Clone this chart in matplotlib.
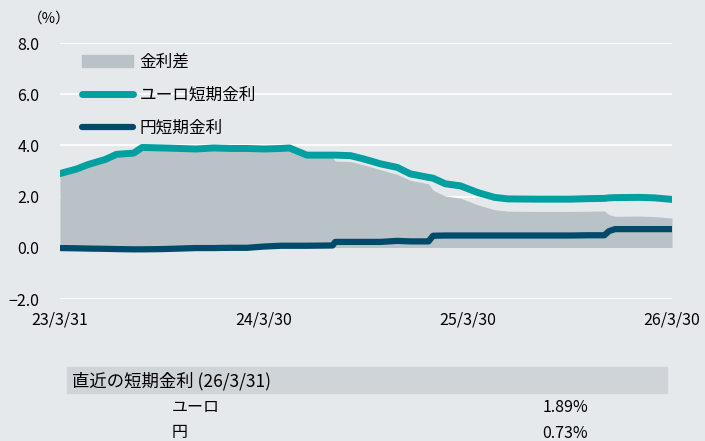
import pandas as pd
import matplotlib
matplotlib.use("Agg")
import matplotlib.pyplot as plt
from matplotlib.patches import Rectangle, Patch
from matplotlib.lines import Line2D

plt.rcParams['font.family'] = ['Noto Sans CJK JP', 'DejaVu Sans']

# data (%)
dates = ['2023-03-31', '2023-04-30', '2023-05-20', '2023-06-20', '2023-07-10',
         '2023-08-10', '2023-08-25', '2023-09-30', '2023-10-31', '2023-11-30',
         '2023-12-31', '2024-01-31', '2024-02-29', '2024-03-31', '2024-04-30',
         '2024-05-15', '2024-06-15', '2024-07-31', '2024-08-05', '2024-09-01',
         '2024-09-25', '2024-10-25', '2024-11-24', '2024-12-17', '2025-01-19',
         '2025-01-27', '2025-02-18', '2025-03-17', '2025-04-17', '2025-05-17',
         '2025-06-10', '2025-07-31', '2025-08-31', '2025-09-30', '2025-10-31',
         '2025-11-30', '2025-12-08', '2025-12-19', '2026-01-31', '2026-02-28',
         '2026-03-31']
euro = [2.90, 3.08, 3.25, 3.45, 3.65,
        3.70, 3.92, 3.90, 3.88, 3.86,
        3.90, 3.88, 3.88, 3.86, 3.88,
        3.90, 3.62, 3.62, 3.62, 3.60,
        3.47, 3.28, 3.14, 2.89, 2.75,
        2.72, 2.50, 2.42, 2.16, 1.97,
        1.91, 1.90, 1.90, 1.90, 1.92,
        1.93, 1.95, 1.96, 1.97, 1.95,
        1.89]
yen = [-0.01, -0.02, -0.03, -0.04, -0.05,
       -0.06, -0.06, -0.05, -0.03, -0.01,
       -0.01, 0.00, 0.00, 0.05, 0.08,
       0.08, 0.08, 0.09, 0.23, 0.23,
       0.23, 0.23, 0.27, 0.25, 0.25,
       0.47, 0.48, 0.48, 0.48, 0.48,
       0.48, 0.48, 0.48, 0.48, 0.49,
       0.49, 0.65, 0.73, 0.73, 0.73,
       0.73]

tick_dates = ['2023-03-31', '2024-03-30', '2025-03-30', '2026-03-30']
tick_labels = ['23/3/31', '24/3/30', '25/3/30', '26/3/30']

latest_label = '直近の短期金利 (26/3/31)'
latest_names = ['ユーロ', '円']
latest_values = ['1.89%', '0.73%']

bg = '#e6e9ec'
fill_c = '#b9c3c7'
teal = '#009fa0'
navy = '#004a6c'

df = pd.DataFrame({'date': pd.to_datetime(dates), 'euro': euro, 'yen': yen})
df['spread'] = df['euro'] - df['yen']

fig = plt.figure(figsize=(7.05, 4.41), dpi=100, facecolor=bg)
ax = fig.add_axes([60/705, 1-299/441, 612/705, 256/441], facecolor=bg)

ax.fill_between(df['date'], 0, df['spread'], color=fill_c, lw=0, zorder=2)
ax.plot(df['date'], df['euro'], color=teal, lw=5, zorder=3, solid_capstyle='round')
ax.plot(df['date'], df['yen'], color=navy, lw=4.5, zorder=4, solid_capstyle='round')

ax.set_ylim(-2, 8)
ax.set_yticks([-2, 0, 2, 4, 6, 8])
ax.set_yticklabels(['\u22122.0', '0.0', '2.0', '4.0', '6.0', '8.0'], fontsize=11.5)
ax.set_xlim(pd.Timestamp('2023-03-31'), pd.Timestamp('2026-03-31'))
ax.set_xticks(pd.to_datetime(tick_dates))
ax.set_xticklabels(tick_labels, fontsize=11.5)
ax.tick_params(length=0)
ax.tick_params(axis='y', pad=15)
ax.tick_params(axis='x', pad=9)
ax.grid(axis='y', color='white', lw=1.2)
ax.set_axisbelow(True)
for s in ax.spines.values():
    s.set_visible(False)

handles = [Patch(color=fill_c),
           Line2D([0], [0], color=teal, lw=5, solid_capstyle='round'),
           Line2D([0], [0], color=navy, lw=4.5, solid_capstyle='round')]
ax.legend(handles, ['金利差', 'ユーロ短期金利', '円短期金利'],
          loc='upper left', bbox_to_anchor=(0.036, 0.958), frameon=False,
          fontsize=12, handlelength=3.05, handletextpad=0.4,
          labelspacing=0.95, borderaxespad=0, borderpad=0)

fig.text(28/705, 1-19/441, '（%）', fontsize=10.5, va='center', ha='left')

# table under the chart
fig.patches.append(Rectangle((67/705, 1-393/441), 600/705, 26/441,
                             transform=fig.transFigure, color='#cfd4d8', zorder=0))
fig.text(72/705, 1-381/441, latest_label, fontsize=12.5, va='center', ha='left')
row_y = [1-407/441, 1-433/441]
for name, val, y in zip(latest_names, latest_values, row_y):
    fig.text(172/705, y, name, fontsize=11.5, va='center', ha='left')
    fig.text(588/705, y, val, fontsize=11.5, va='center', ha='right')

fig.savefig('out.png', dpi=100, facecolor=bg)
